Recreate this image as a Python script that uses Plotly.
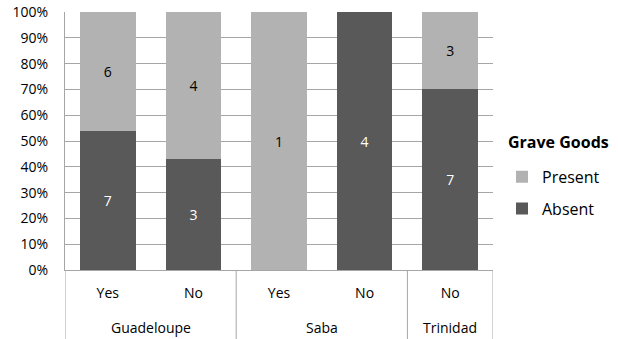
import plotly.graph_objects as go

# Burial counts by island and grave-good presence
islands = ["Guadeloupe", "Guadeloupe", "Saba", "Saba", "Trinidad"]
subgroups = ["Yes", "No", "Yes", "No", "No"]
absent = [7, 3, 0, 4, 7]
present = [6, 4, 1, 0, 3]
y_ticks = [0, 10, 20, 30, 40, 50, 60, 70, 80, 90, 100]

FONT = "Open Sans"
DARK = "#595959"
LIGHT = "#b2b2b2"
GRID = "#a6a6a6"

pos = list(range(len(subgroups)))


def labels(vals):
    return [str(v) if v else "" for v in vals]


fig = go.Figure()
fig.add_trace(go.Bar(
    x=pos, y=absent, name="Absent",
    marker=dict(color=DARK, line=dict(width=0)),
    text=labels(absent), textposition="inside", insidetextanchor="middle",
    textfont=dict(color="white", size=14, family=FONT),
    legendgroup="a", legendrank=2,
))
fig.add_trace(go.Bar(
    x=pos, y=present, name="Present",
    marker=dict(color=LIGHT, line=dict(width=0)),
    text=labels(present), textposition="inside", insidetextanchor="middle",
    textfont=dict(color="black", size=14, family=FONT),
    legendgroup="p", legendrank=1,
))

# Island group labels and the divider lines of the two-level category axis
groups = []
for i, name in enumerate(islands):
    if groups and groups[-1][0] == name:
        groups[-1][2] = i
    else:
        groups.append([name, i, i])

shapes = []
annotations = []
edges = {-0.5}
for name, start, end in groups:
    edges.add(end + 0.5)
    annotations.append(dict(
        x=(start + end) / 2, y=-0.221, xref="x", yref="paper",
        text=name, showarrow=False, yanchor="middle",
        font=dict(size=14, family=FONT, color="black"),
    ))
for e in sorted(edges):
    shapes.append(dict(
        type="line", xref="x", yref="paper", x0=e, x1=e, y0=0, y1=-0.3,
        line=dict(color=GRID, width=1),
    ))

# Legend heading
annotations.append(dict(
    x=1.030, y=0.495, xref="paper", yref="paper", xanchor="left",
    yanchor="middle", text="<b>Grave Goods</b>", showarrow=False,
    font=dict(size=16, family=FONT, color="black"),
))

fig.update_layout(
    width=618, height=339,
    margin=dict(l=65, r=125, t=12, b=69, autoexpand=False),
    barmode="stack", barnorm="percent", bargap=0.35,
    plot_bgcolor="white", paper_bgcolor="white",
    font=dict(family=FONT, size=14, color="black"),
    uniformtext=dict(minsize=14, mode="show"),
    shapes=shapes, annotations=annotations,
    legend=dict(
        xref="container", x=0.8123, y=0.427, xanchor="left", yanchor="top",
        traceorder="grouped", tracegroupgap=8,
        font=dict(size=16), itemsizing="constant",
    ),
)
fig.update_yaxes(
    range=[0, 100], tickvals=y_ticks, ticktext=[f"{v}%" for v in y_ticks],
    showgrid=True, gridcolor=GRID, gridwidth=1,
    showline=True, linecolor=GRID, linewidth=1,
    ticks="", ticklabelstandoff=13, zeroline=False, automargin=False,
    tickfont=dict(size=14),
)
fig.update_xaxes(
    range=[-0.5, len(pos) - 0.5], tickvals=pos, ticktext=subgroups,
    showline=True, linecolor=GRID, linewidth=1, showgrid=False,
    ticks="", ticklabelstandoff=10, zeroline=False, automargin=False,
    tickfont=dict(size=14),
)

fig.write_html("out.html")
